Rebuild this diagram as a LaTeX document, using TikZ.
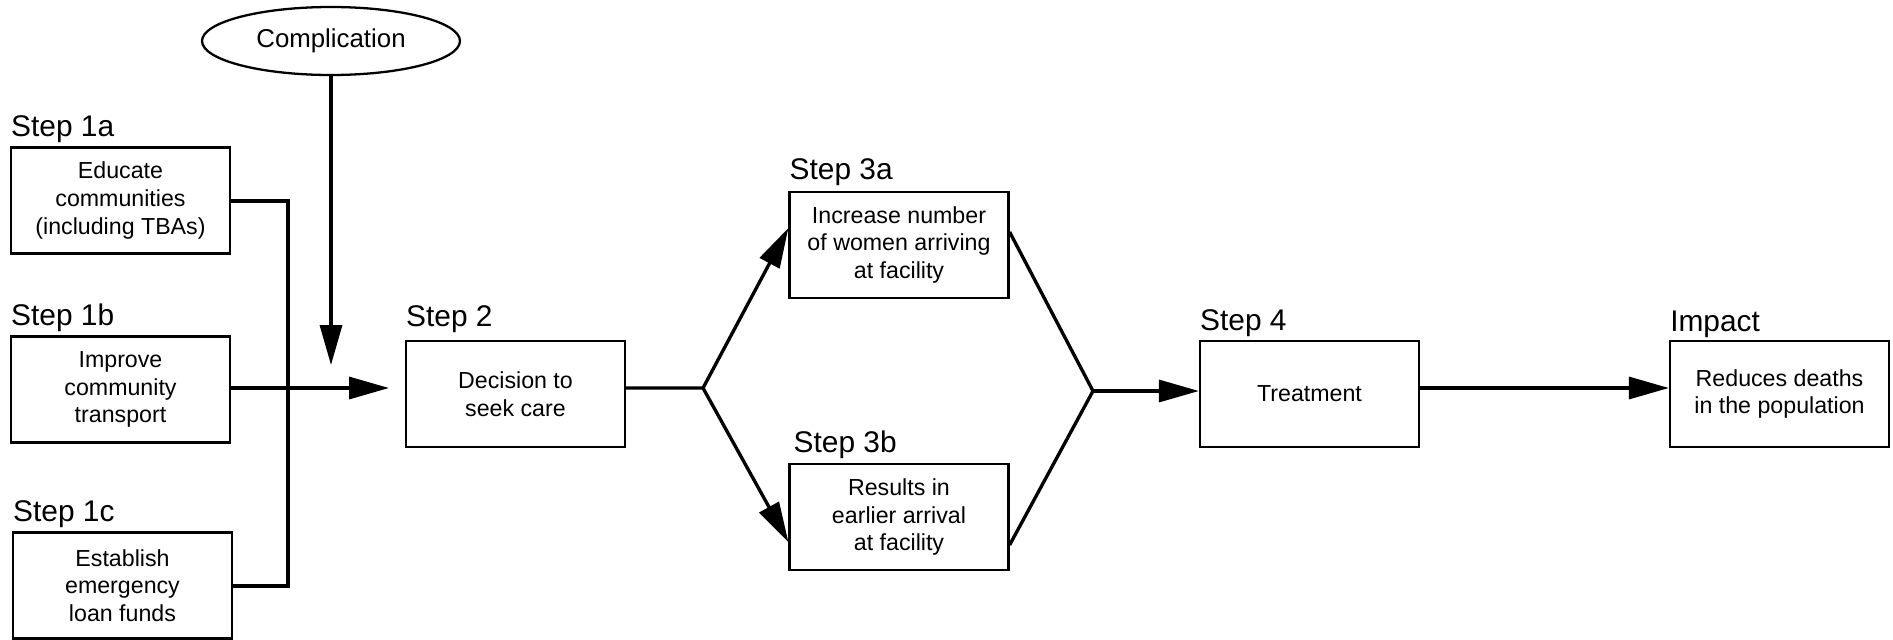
\documentclass[tikz,border=0pt]{standalone}
\usepackage{fontspec}
\setmainfont{Liberation Sans}
\usetikzlibrary{positioning,arrows.meta,shapes.geometric}

\newcommand{\boxfont}{\fontsize{13.2}{15.8}\selectfont}
\newcommand{\labelfont}{\fontsize{17}{20}\selectfont}
\newcommand{\ovalfont}{\fontsize{14.7}{17}\selectfont}

\begin{document}
\begin{tikzpicture}[x=0.02cm,y=-0.02cm,
    stepbox/.style={draw,line width=1.3pt,minimum width=4.38cm,minimum height=2.12cm,inner sep=0pt,align=center,font=\boxfont},
    steplabel/.style={inner sep=0pt,font=\labelfont},
    link/.style={line width=1.9pt},
    arrowlink/.style={line width=1.9pt,-{Triangle[length=0.8cm,width=0.44cm]}}]
  \useasboundingbox (0,0) rectangle (1893,639);

  \node[ellipse,draw,line width=1.3pt,minimum width=5.16cm,minimum height=1.36cm,inner sep=0pt,font=\ovalfont] (compl) at (331,41) {Complication}; % complication

  \node[stepbox] (s1a) at (120.5,200.5) {Educate\\communities\\(including TBAs)}; % step 1a
  \node[steplabel,above right=0.07cm and 0.02cm of s1a.north west] (l1a) {Step 1a};
  \node[stepbox] (s1b) at (120.5,389.5) {Improve\\community\\transport}; % step 1b
  \node[steplabel,above right=0.07cm and 0.02cm of s1b.north west] (l1b) {Step 1b};
  \node[stepbox] (s1c) at (122.5,585.5) {Establish\\emergency\\loan funds}; % step 1c
  \node[steplabel,above right=0.07cm and 0.02cm of s1c.north west] (l1c) {Step 1c};

  \node[stepbox] (s2) at (515.5,394) {Decision to\\seek care}; % step 2
  \node[steplabel,above right=0.13cm and 0.02cm of s2.north west] (l2) {Step 2};

  \node[stepbox] (s3a) at (899,245) {Increase number\\of women arriving\\at facility}; % step 3a
  \node[steplabel,above right=0.09cm and 0.02cm of s3a.north west] (l3a) {Step 3a};
  \node[stepbox] (s3b) at (899,517) {Results in\\earlier arrival\\at facility}; % step 3b
  \node[steplabel,above right=0.07cm and 0.1cm of s3b.north west] (l3b) {Step 3b};

  \node[stepbox] (s4) at (1309.5,394) {Treatment}; % step 4
  \node[steplabel,above right=0.05cm and 0.02cm of s4.north west] (l4) {Step 4};
  \node[stepbox] (imp) at (1779.5,394) {Reduces deaths\\in the population}; % impact
  \node[steplabel,above right=0.04cm and 0.02cm of imp.north west] (limp) {Impact};

  \coordinate (bustop) at (288,201); % collecting line
  \coordinate (busbot) at (288,586);
  \coordinate (s2in) at (389,388); % free arrow ends
  \coordinate (complin) at (331,365);
  \coordinate (fork1) at (703,388); % forks
  \coordinate (fork2) at (1093,391);

  \draw[link] (s1a.east |- bustop) -- (bustop) -- (busbot) -- (s1c.east |- busbot);
  \draw[arrowlink] (s1b.east |- s2in) -- (s2in);
  \draw[arrowlink] (compl.south) -- (complin);

  \draw[link] ([yshift=0.12cm]s2.east) -- (fork1);
  \draw[arrowlink] (fork1) -- ([yshift=0.34cm]s3a.west);
  \draw[arrowlink] (fork1) -- ([yshift=-0.5cm]s3b.west);

  \draw[link] ([yshift=0.26cm]s3a.east) -- (fork2) -- ([yshift=-0.56cm]s3b.east);
  \draw[arrowlink] (fork2) -- (fork2 -| s4.west);
  \draw[arrowlink] ([yshift=0.12cm]s4.east) -- ([yshift=0.12cm]imp.west);
\end{tikzpicture}
\end{document}
